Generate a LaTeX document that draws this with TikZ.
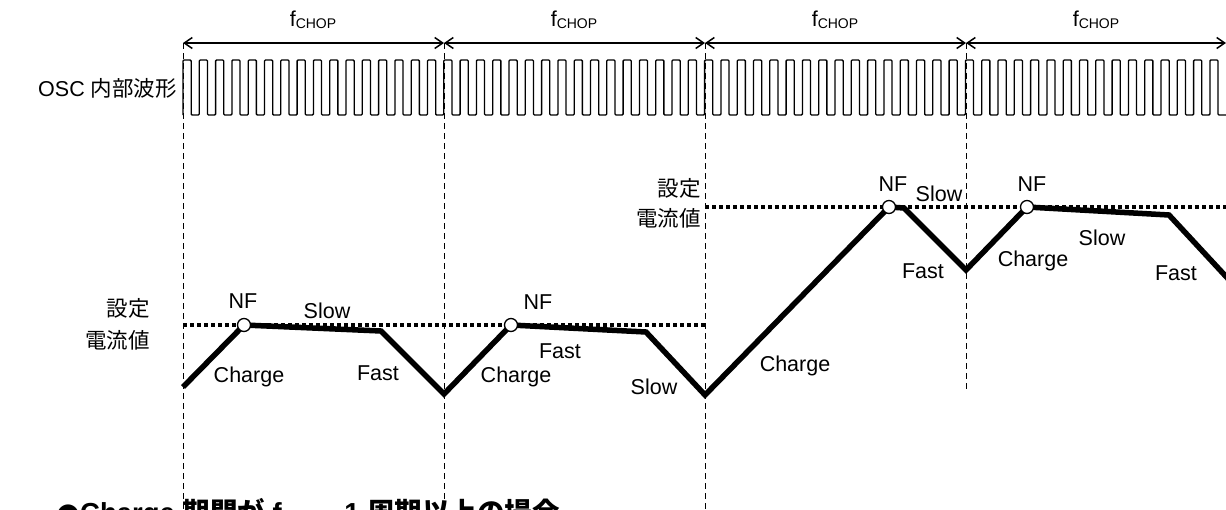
\documentclass[tikz,border=0pt]{standalone}
\usepackage{fontspec}
\setmainfont{Liberation Sans}
\newfontfamily\cjk{Noto Sans CJK JP}
\newfontfamily\symb{DejaVu Sans}
\usetikzlibrary{arrows.meta, positioning}

\newcommand{\fchop}[1][14]{f\raisebox{-2.5pt}{\fontsize{#1}{#1}\selectfont CHOP}}

\begin{document}
\begin{tikzpicture}[x=1pt, y=-1pt,
        lbl/.style={font=\fontsize{21.5}{24}\selectfont, inner sep=0pt, anchor=base},
        jp/.style={font=\fontsize{21.5}{24}\selectfont\cjk, inner sep=0pt},
        span/.style={{Straight Barb[length=8pt,width=11pt]}-{Straight Barb[length=8pt,width=11pt]}, line width=1.5pt},
        guide/.style={dash pattern=on 6pt off 4pt, line width=0.9pt},
        level/.style={line width=4pt, dash pattern=on 4pt off 3pt},
        osc/.style={line width=1.3pt, rounded corners=1pt},
        current/.style={line width=5.5pt, line join=miter},
        nf/.style={circle, draw, fill=white, line width=1.3pt, minimum size=13pt, inner sep=0pt}
    ]
    \useasboundingbox (0,0) rectangle (1226,509);

    % Chopping periods
    \foreach \n/\x in {0/183, 1/444, 2/705, 3/966, 4/1226}
        \coordinate (t\n) at (\x,43);
    \draw[span] (t0) -- (t1);
    \draw[span] (t1) -- (t2);
    \draw[span] (t2) -- (t3);
    \draw[span] (t3) -- (t4);
    \node[lbl] (fc1) at (313,26) {\fchop};
    \node[lbl] (fc2) at (574,26) {\fchop};
    \node[lbl] (fc3) at (835,26) {\fchop};
    \node[lbl] (fc4) at (1096,26) {\fchop};

    % Guide lines
    \coordinate (g0) at (183,509);
    \coordinate (g1) at (444,509);
    \coordinate (g2) at (705,509);
    \coordinate (g3) at (966,390);
    \draw[guide] (t0) -- (g0);
    \draw[guide] (t1) -- (g1);
    \draw[guide] (t2) -- (g2);
    \draw[guide] (t3) -- (g3);

    % OSC waveform
    \node[jp, anchor=base west] (osc) at (38,96) {\fontspec{Liberation Sans}OSC \cjk 内部波形};
    \draw[osc] (183,115) \foreach \i in {1,...,64} { -- ++(0,-55) -- ++(8.15,0) -- ++(0,55) -- ++(8.15,0) };

    % Set current levels
    \coordinate (la) at (183,325);
    \coordinate (lb) at (705,325);
    \coordinate (lc) at (705,207);
    \coordinate (ld) at (1226,207);
    \draw[level] (la) -- (lb);
    \draw[level] (lc) -- (ld);
    \node[jp, anchor=base east] (set1) at (150,316) {設定};
    \node[jp, anchor=base east] (cur1) at (150,348) {電流値};
    \node[jp, anchor=base east] (set2) at (701,196) {設定};
    \node[jp, anchor=base east] (cur2) at (701,226) {電流値};

    % Coil current
    \coordinate (c0) at (183,387);
    \coordinate (p1) at (244,325);
    \coordinate (c1) at (381,331);
    \coordinate (c2) at (444,394);
    \coordinate (p2) at (511,325);
    \coordinate (c3) at (646,332);
    \coordinate (c4) at (705,395);
    \coordinate (p3) at (889,207);
    \coordinate (c5) at (904,208);
    \coordinate (c6) at (966,270);
    \coordinate (p4) at (1027,207);
    \coordinate (c7) at (1169,215);
    \coordinate (c8) at (1232,283);
    \draw[current] (c0) -- (p1) -- (c1) -- (c2) -- (p2) -- (c3) -- (c4)
        -- (p3) -- (c5) -- (c6) -- (p4) -- (c7) -- (c8);
    \node[nf] (nf1) at (p1) {};
    \node[nf] (nf2) at (p2) {};
    \node[nf] (nf3) at (p3) {};
    \node[nf] (nf4) at (p4) {};

    % Phase labels
    \node[lbl] (n1) at (243,308) {NF};
    \node[lbl] (s1) at (327,318) {Slow};
    \node[lbl] (ch1) at (249,382) {Charge};
    \node[lbl] (f1) at (378,380) {Fast};
    \node[lbl] (n2) at (538,309) {NF};
    \node[lbl] (f2) at (560,358) {Fast};
    \node[lbl] (ch2) at (516,382) {Charge};
    \node[lbl] (s2) at (654,394) {Slow};
    \node[lbl] (ch3) at (795,371) {Charge};
    \node[lbl] (n3) at (893,191) {NF};
    \node[lbl] (s3) at (939,201) {Slow};
    \node[lbl] (f3) at (923,278) {Fast};
    \node[lbl] (n4) at (1032,191) {NF};
    \node[lbl] (ch4) at (1033,266) {Charge};
    \node[lbl] (s4) at (1102,245) {Slow};
    \node[lbl] (f4) at (1176,280) {Fast};

    % Caption
    \node[lbl, anchor=base west, font=\fontsize{27.5}{30}\selectfont\bfseries] (cap) at (56,522)
        {{\symb ●}Charge {\cjk 期間が} \fchop[19] 1 {\cjk 周期以上の場合}};

\end{tikzpicture}
\end{document}
